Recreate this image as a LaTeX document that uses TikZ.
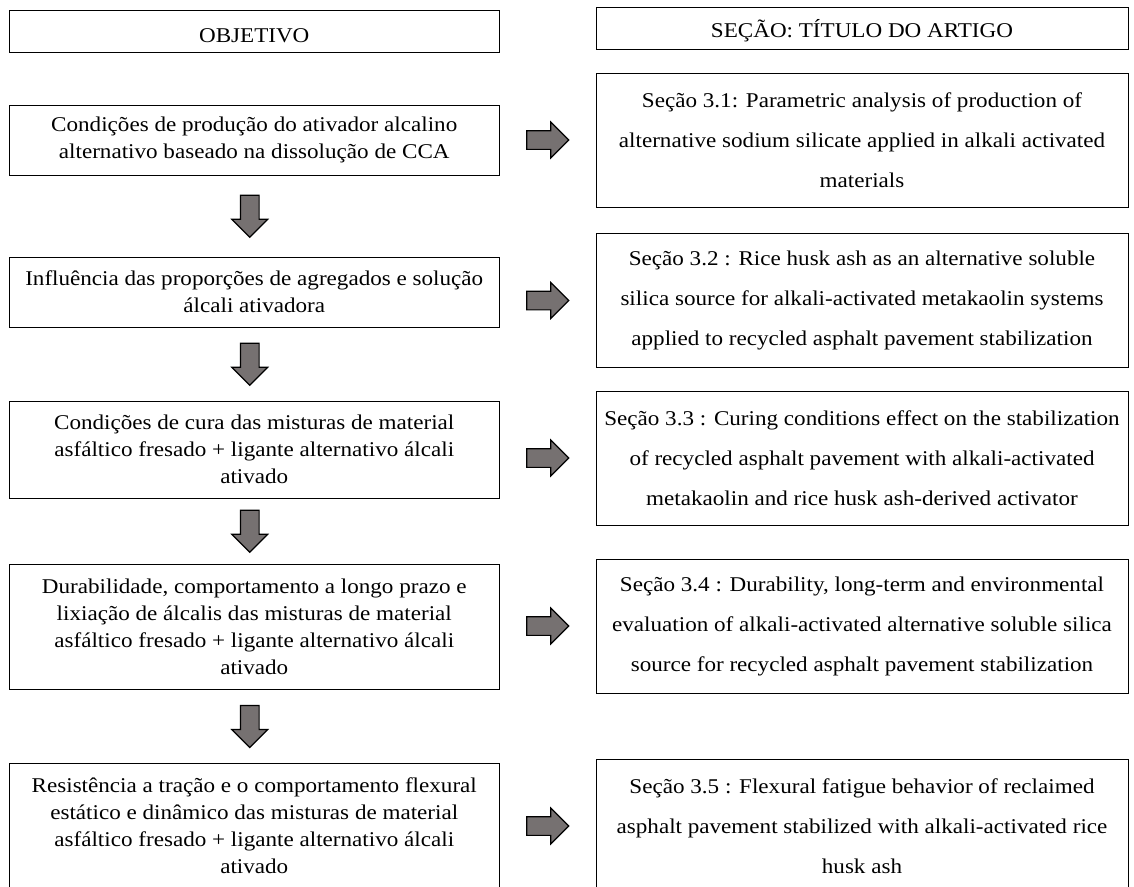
\documentclass[tikz,border=0pt]{standalone}
\usepackage{fontspec}
\setmainfont{Liberation Serif}[FakeStretch=1.1]
\usetikzlibrary{shapes.arrows,calc,positioning}
\definecolor{arrowgray}{RGB}{118,113,113}

\begin{document}
\begin{tikzpicture}[x=1pt,y=-1pt,
  objbox/.style={draw,line width=1pt,minimum width=489.5pt,inner sep=0pt,align=center,
    font=\fontsize{21}{27}\selectfont,execute at begin node={\rule{0pt}{24pt}}},
  secbox/.style={draw,line width=1pt,minimum width=532pt,minimum height=134pt,inner sep=0pt,align=center,
    font=\fontsize{21}{40}\selectfont,execute at begin node={\rule{0pt}{29pt}}},
  rarrow/.style={single arrow,draw,line width=1.2pt,fill=arrowgray,inner sep=8.75pt,
    minimum height=42pt,single arrow head extend=8.5pt,xshift=-4.5pt},
  darrow/.style={rarrow,shape border rotate=270,xshift=0pt,yshift=4.5pt}]
\useasboundingbox (0,0) rectangle (1134,886);

\node[objbox,minimum height=42pt] (obj) at (254.25,31) {OBJETIVO};
\node[objbox,minimum width=532pt,minimum height=42pt] (sec) at (862,28) {SEÇÃO: TÍTULO DO ARTIGO};

\node[objbox,minimum height=70pt] (l1) at (254.25,140) {Condições de produção do ativador alcalino\\alternativo baseado na dissolução de CCA};
\node[objbox,minimum height=70pt] (l2) at (254.25,292) {Influência das proporções de agregados e solução\\álcali ativadora};
\node[objbox,minimum height=97pt] (l3) at (254.25,449.5) {Condições de cura das misturas de material\\asfáltico fresado + ligante alternativo álcali\\ativado};
\node[objbox,minimum height=125pt] (l4) at (254.25,626.5) {Durabilidade, comportamento a longo prazo e\\lixiação de álcalis das misturas de material\\asfáltico fresado + ligante alternativo álcali\\ativado};
\node[objbox,minimum height=125pt] (l5) at (254.25,826) {Resistência a tração e o comportamento flexural\\estático e dinâmico das misturas de material\\asfáltico fresado + ligante alternativo álcali\\ativado};

\node[secbox] (s1) at (862,140) {Seção 3.1: Parametric analysis of production of\\alternative sodium silicate applied in alkali activated\\materials};
\node[secbox] (s2) at (862,300.5) {Seção 3.2 : Rice husk ash as an alternative soluble\\silica source for alkali-activated metakaolin systems\\applied to recycled asphalt pavement stabilization};
\node[secbox] (s3) at (862,458) {Seção 3.3 : Curing conditions effect on the stabilization\\of recycled asphalt pavement with alkali-activated\\metakaolin and rice husk ash-derived activator};
\node[secbox] (s4) at (862,626) {Seção 3.4 : Durability, long-term and environmental\\evaluation of alkali-activated alternative soluble silica\\source for recycled asphalt pavement stabilization};
\node[secbox] (s5) at (862,826) {Seção 3.5 : Flexural fatigue behavior of reclaimed\\asphalt pavement stabilized with alkali-activated rice\\husk ash};

% arrows
\coordinate (mid) at ($(l1.east)!.5!(s1.west)$);
\node[rarrow] (r1) at (mid |- s1) {};
\node[rarrow] (r2) at (mid |- s2) {};
\node[rarrow] (r3) at (mid |- s3) {};
\node[rarrow] (r4) at (mid |- s4) {};
\node[rarrow] (r5) at (mid |- s5) {};

\node[darrow] (d1) at ($(l1.south)!.5!(l2.north)$) {};
\node[darrow] (d2) at ($(l2.south)!.5!(l3.north)$) {};
\node[darrow] (d3) at ($(l3.south)!.5!(l4.north)$) {};
\node[darrow] (d4) at ($(l4.south)!.5!(l5.north)$) {};

\end{tikzpicture}
\end{document}
